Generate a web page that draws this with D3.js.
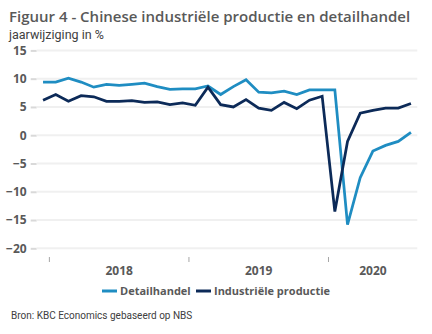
<!DOCTYPE html>
<html>
<head>
<meta charset="utf-8">
<script src="https://cdn.jsdelivr.net/npm/d3@7"></script>
<style>
  html, body { margin: 0; padding: 0; background: #ffffff; }
  svg { display: block; }
</style>
</head>
<body>
<svg id="chart" width="432" height="334"></svg>
<script>
// ---- Data ----
const categories = [
  "dec 2017",
  "jan-feb 2018", "mrt 2018", "apr 2018", "mei 2018", "jun 2018", "jul 2018",
  "aug 2018", "sep 2018", "okt 2018", "nov 2018", "dec 2018",
  "jan-feb 2019", "mrt 2019", "apr 2019", "mei 2019", "jun 2019", "jul 2019",
  "aug 2019", "sep 2019", "okt 2019", "nov 2019", "dec 2019",
  "jan-feb 2020", "mrt 2020", "apr 2020", "mei 2020", "jun 2020", "jul 2020", "aug 2020"
];
const detailhandel = [
  9.4,
  9.4, 10.1, 9.4, 8.5, 9.0, 8.8, 9.0, 9.2, 8.6, 8.1, 8.2,
  8.2, 8.7, 7.2, 8.6, 9.8, 7.6, 7.5, 7.8, 7.2, 8.0, 8.0,
  8.0, -15.8, -7.5, -2.8, -1.8, -1.1, 0.5
];
const industrieleProductie = [
  6.2,
  7.2, 6.0, 7.0, 6.8, 6.0, 6.0, 6.1, 5.8, 5.9, 5.4, 5.7,
  5.3, 8.5, 5.4, 5.0, 6.3, 4.8, 4.4, 5.8, 4.7, 6.2, 6.9,
  -13.5, -1.1, 3.9, 4.4, 4.8, 4.8, 5.6
];
const yearLabels = ["2018", "2019", "2020"];
const yTicks = [15, 10, 5, 0, -5, -10, -15, -20];
const seriesNames = ["Detailhandel", "Industriële productie"];
const seriesColors = ["#1f8dc2", "#0c2a58"];

const titleText = "Figuur 4 - Chinese industriële productie en detailhandel";
const subtitleText = "jaarwijziging in %";
const sourceText = "Bron: KBC Economics gebaseerd op NBS";

// ---- Layout ----
const svg = d3.select("#chart");
const plot = { left: 36.7, right: 417.3, top: 50.4, bottom: 248.3 };

const x = d3.scalePoint()
  .domain(categories)
  .range([plot.left, plot.right])
  .padding(0.5);
const step = x.step();

const y = d3.scaleLinear()
  .domain([-20, 15])
  .range([plot.bottom, plot.top]);

const grey = "#595959";

// Title
svg.append("text")
  .attr("x", 9).attr("y", 22)
  .attr("font-family", "'Open Sans', sans-serif")
  .attr("font-weight", 600)
  .attr("font-size", 15)
  .attr("fill", grey)
  .text(titleText);

svg.append("text")
  .attr("x", 9).attr("y", 38.5)
  .attr("font-family", "'Liberation Sans Narrow', 'Roboto', sans-serif")
  .attr("font-size", 12.5)
  .attr("fill", "#404040")
  .text(subtitleText);

// Gridlines + y axis
const yAxis = d3.axisLeft(y)
  .tickValues(yTicks)
  .tickSize(6)
  .tickFormat(d3.format("d"));

const gy = svg.append("g")
  .attr("transform", `translate(${plot.left},0)`)
  .call(yAxis);
gy.select(".domain").remove();
gy.selectAll(".tick line").attr("stroke", "#d9d9d9").attr("stroke-width", 2);
gy.selectAll(".tick text")
  .attr("x", -10)
  .attr("font-family", "'Open Sans', sans-serif")
  .attr("font-weight", 700)
  .attr("font-size", 12)
  .attr("fill", grey);

svg.append("g")
  .selectAll("line")
  .data(yTicks)
  .join("line")
  .attr("x1", plot.left).attr("x2", plot.right)
  .attr("y1", d => y(d)).attr("y2", d => y(d))
  .attr("stroke", "#f0f0f0")
  .attr("stroke-width", 2);

// X axis: boundaries between years, year labels centred on groups
const yearOf = c => c.slice(-4);
const groups = yearLabels.map(yr => {
  const idx = categories.map((c, i) => yearOf(c) === yr ? i : -1).filter(i => i >= 0);
  const first = x(categories[idx[0]]) - step / 2;
  const last = x(categories[idx[idx.length - 1]]) + step / 2;
  return { yr, first, last };
});

svg.append("g")
  .selectAll("line")
  .data(groups)
  .join("line")
  .attr("x1", d => d.first).attr("x2", d => d.first)
  .attr("y1", 257).attr("y2", 262)
  .attr("stroke", "#a6a6a6")
  .attr("stroke-width", 1);

svg.append("g")
  .selectAll("text")
  .data(groups)
  .join("text")
  .attr("x", d => (d.first + d.last) / 2)
  .attr("y", 275)
  .attr("text-anchor", "middle")
  .attr("font-family", "'Open Sans', sans-serif")
  .attr("font-weight", 700)
  .attr("font-size", 12)
  .attr("fill", grey)
  .text(d => d.yr);

// Lines
const seriesData = [detailhandel, industrieleProductie];
const line = d3.line()
  .x((d, i) => x(categories[i]))
  .y(d => y(d));

svg.append("g")
  .selectAll("path")
  .data(seriesData)
  .join("path")
  .attr("d", d => line(d))
  .attr("fill", "none")
  .attr("stroke", (d, i) => seriesColors[i])
  .attr("stroke-width", 2.75)
  .attr("stroke-linejoin", "miter");

// Legend
const legend = svg.append("g");
const legendX = [102, 196];
seriesNames.forEach((name, i) => {
  legend.append("line")
    .attr("x1", legendX[i]).attr("x2", legendX[i] + 15)
    .attr("y1", 291).attr("y2", 291)
    .attr("stroke", seriesColors[i])
    .attr("stroke-width", 3);
  legend.append("text")
    .attr("x", legendX[i] + 18).attr("y", 295)
    .attr("font-family", "'Open Sans', sans-serif")
    .attr("font-weight", 700)
    .attr("font-size", 11)
    .attr("fill", grey)
    .text(name);
});

// Source
svg.append("text")
  .attr("x", 11).attr("y", 319)
  .attr("font-family", "'Liberation Sans Narrow', 'Roboto', sans-serif")
  .attr("font-size", 10)
  .attr("fill", "#404040")
  .text(sourceText);
</script>
</body>
</html>
